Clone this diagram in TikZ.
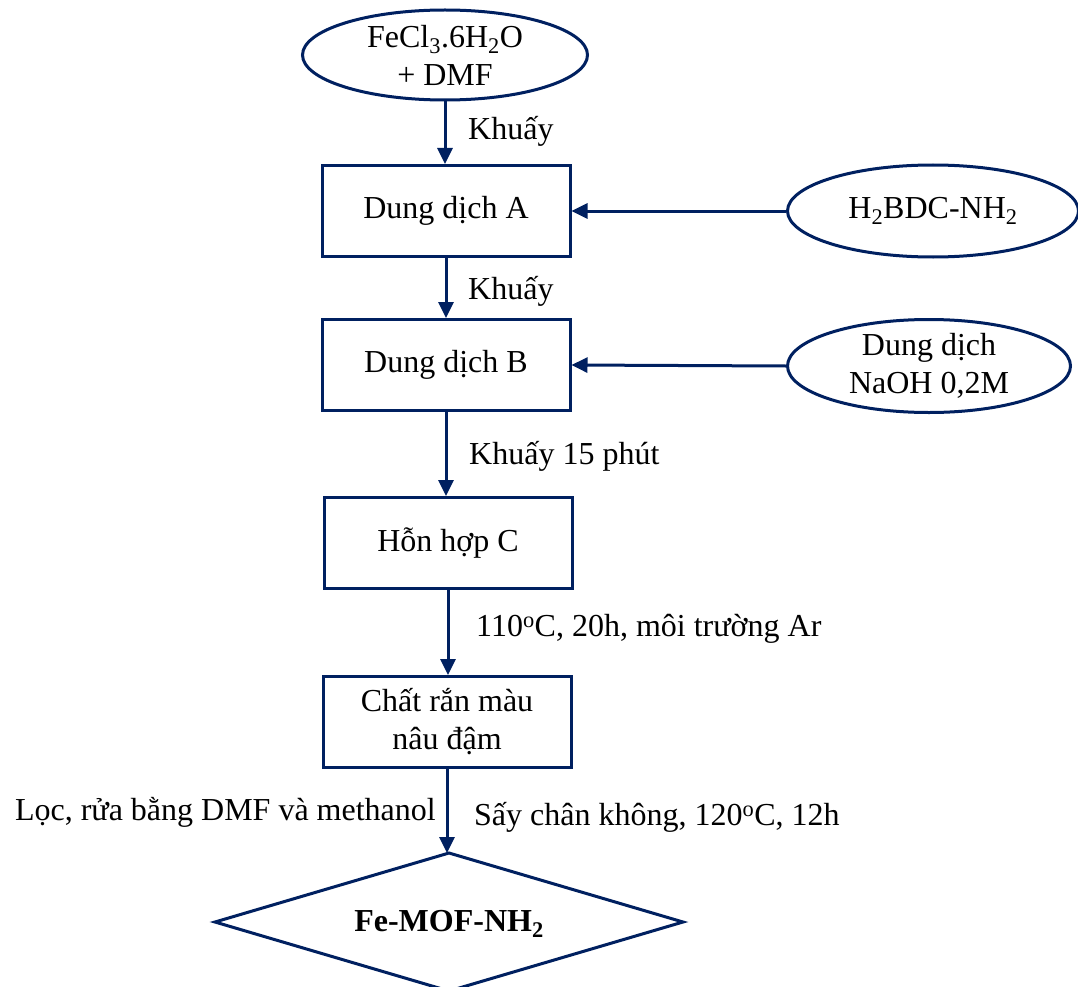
\documentclass[tikz,border=0pt]{standalone}
\usepackage{fontspec}
\setmainfont{Liberation Serif}
\usetikzlibrary{shapes.geometric,arrows.meta}
\definecolor{navy}{RGB}{0,32,96}
\begin{document}
\begin{tikzpicture}[x=1pt,y=-1pt,
  every node/.style={font=\fontsize{32}{38}\selectfont, text=black},
  proc/.style={draw=navy, line width=3pt, rectangle, minimum width=248pt, minimum height=91pt, inner sep=0pt, align=center},
  ell/.style={draw=navy, line width=3pt, ellipse, inner sep=0pt, align=center},
  flow/.style={draw=navy, line width=3pt, -{Triangle[length=16pt,width=15pt]}},
  lab/.style={anchor=west, inner sep=0pt}]
\useasboundingbox (0,0) rectangle (1078,987);
\node[ell, minimum width=285pt, minimum height=90pt] (fe) at (445,55) {FeCl\textsubscript{3}.6H\textsubscript{2}O\\+ DMF};
\node[proc] (A) at (446,211) {Dung dịch A};
\node[ell, minimum width=291pt, minimum height=92pt] (h2) at (933,211) {H\textsubscript{2}BDC-NH\textsubscript{2}};
\node[proc] (B) at (446,365) {Dung dịch B};
\node[ell, minimum width=283pt, minimum height=93pt] (na) at (929,366) {Dung dịch\\NaOH 0,2M};
\node[proc] (C) at (448,543) {Hỗn hợp C};
\node[proc] (D) at (447,722) {Chất rắn màu\\nâu đậm};
\coordinate (Ftop) at (449,853);
\coordinate (Fright) at (683,922);
\coordinate (Fbot) at (449,991);
\coordinate (Fleft) at (215,922);
\draw[navy, line width=3pt] (Ftop) -- (Fright) -- (Fbot) -- (Fleft) -- cycle;
\node[inner sep=0pt, font=\fontsize{32}{38}\selectfont\bfseries] (F) at (449,924) {Fe-MOF-NH\textsubscript{2}};
\draw[flow] (fe.south) -- (fe.south |- A.north);
\draw[flow] (h2.west) -- (A.east);
\draw[flow] (A.south) -- (A.south |- B.north);
\draw[flow] (na.west) -- (B.east);
\draw[flow] (B.south) -- (B.south |- C.north);
\draw[flow] (C.south) -- (C.south |- D.north);
\draw[flow] (D.south) -- (D.south |- Ftop);
\node[lab] (l1) at (468,131) {Khuấy};
\node[lab] (l2) at (468,291) {Khuấy};
\node[lab] (l3) at (469,456) {Khuấy 15 phút};
\node[lab] (l4) at (476,629) {110\textsuperscript{o}C, 20h, môi trường Ar};
\node[anchor=east, inner sep=0pt] (l5) at (436,812) {Lọc, rửa bằng DMF và methanol};
\node[lab] (l6) at (474,817) {Sấy chân không, 120\textsuperscript{o}C, 12h};
\end{tikzpicture}
\end{document}
